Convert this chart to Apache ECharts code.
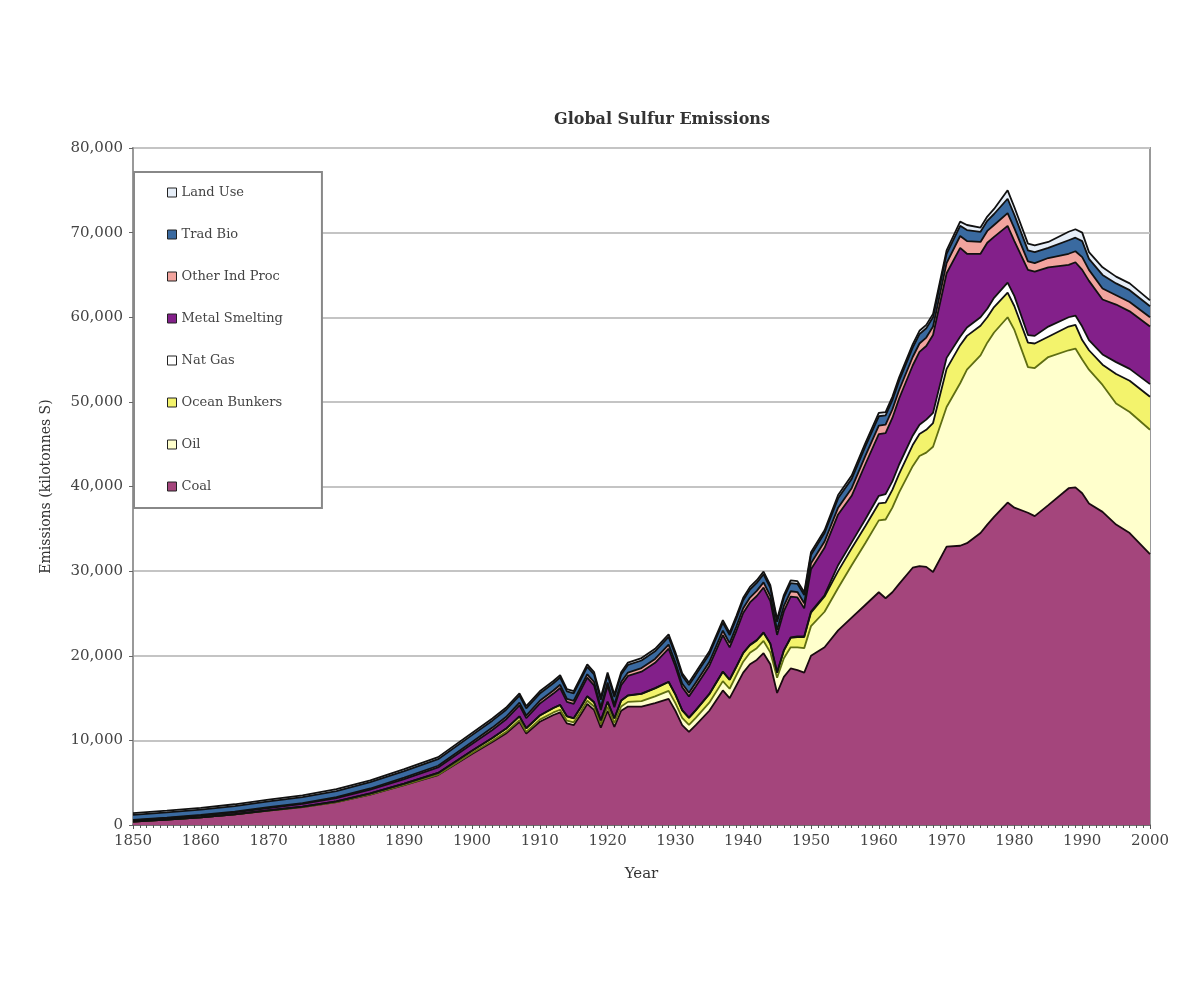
<!DOCTYPE html>
<html>
<head>
<meta charset="utf-8">
<title>Global Sulfur Emissions</title>
<script src="https://cdn.jsdelivr.net/npm/echarts@6/dist/echarts.min.js"></script>
<style>
  html, body { margin: 0; padding: 0; background: #fff; }
  #chart { width: 1200px; height: 981px; }
</style>
</head>
<body>
<div id="chart"></div>
<script>
// 年份（不等间距，跳动大的年份取得更密）
const years = [1850,1855,1860,1865,1870,1875,1880,1885,1890,1895,
  1900,1903,1905,1907,1908,1910,1912,1913,1914,1915,
  1916,1917,1918,1919,1920,1921,1922,1923,1925,1927,
  1929,1930,1931,1932,1933,1935,1937,1938,1939,1940,
  1941,1942,1943,1944,1945,1946,1947,1948,1949,1950,
  1952,1954,1956,1958,1960,1961,1962,1963,1965,1966,
  1967,1968,1970,1972,1973,1975,1976,1977,1979,1980,
  1982,1983,1985,1988,1989,1990,1991,1993,1995,1997,2000];

// 各来源排放量 (kilotonnes S)
const coal = [400,650,900,1250,1700,2100,2700,3600,4700,5900,
  8400,9800,10800,12200,10800,12200,13000,13300,12000,11800,
  13000,14300,13600,11500,13500,11600,13500,14000,14000,14400,
  14900,13500,11800,11000,11800,13500,15900,15000,16500,18000,
  19000,19500,20300,19000,15600,17500,18500,18300,18000,20000,
  21000,23000,24500,26000,27500,26800,27500,28500,30400,30600,
  30500,29900,32900,33000,33300,34500,35500,36400,38100,37500,
  36900,36500,37800,39800,39900,39200,38000,37000,35500,34500,32000];
const oil = [0,0,0,0,0,5,10,15,30,50,
  100,150,180,200,200,250,300,320,320,330,
  350,380,400,420,450,450,500,550,650,800,
  950,900,850,820,850,950,1100,1100,1200,1300,
  1350,1400,1450,1400,1800,2200,2500,2700,2900,3500,
  4200,5000,6200,7300,8500,9300,10000,10800,12000,13000,
  13500,14800,16500,19200,20500,21000,21500,21800,21900,21000,
  17200,17500,17500,16300,16400,15800,15800,15000,14300,14300,14700];
const oceanBunkers = [0,0,10,20,40,60,80,110,150,200,
  270,330,380,430,420,480,520,560,520,480,
  500,520,500,450,600,550,700,750,850,950,
  1050,1000,900,850,900,1000,1100,1050,1000,1000,
  900,900,950,1000,600,900,1100,1200,1300,1600,
  1800,2000,2000,2000,2000,2000,2100,2200,2500,2600,
  2700,2800,4500,4500,4000,3500,3000,3000,2900,2800,
  2900,2900,2400,2800,2800,2300,2300,2400,3500,3700,3900];
const natGas = [0,0,0,0,0,0,0,0,0,0,
  0,0,0,10,10,10,10,10,10,10,
  10,10,10,10,10,10,10,10,20,20,
  30,30,30,30,30,40,40,40,50,50,
  50,60,60,60,60,70,80,90,100,120,
  150,700,700,800,900,1000,1000,1100,1100,1100,
  1200,1200,1300,1000,1000,1000,1000,1100,1200,1200,
  900,900,1200,1100,1100,1600,1200,1200,1400,1400,1500];
const metalSmelting = [150,170,200,230,270,320,380,450,550,650,
  800,950,1100,1300,1200,1400,1700,2000,1700,1700,
  2000,2200,2000,1200,1900,1300,1800,2300,2600,3000,
  3900,3300,2700,2500,2800,3300,4300,3800,4200,4700,
  5000,5200,5300,5000,4400,4600,4800,4600,3300,5000,
  5600,6000,5500,6500,7300,7200,7500,7800,8300,8600,
  8700,9200,10000,10500,8700,7500,7800,7200,6700,6500,
  7700,7600,7000,6200,6300,6700,7000,6500,6800,6800,6800];
const otherIndProc = [50,60,70,80,90,100,120,140,170,200,
  250,280,300,320,310,340,360,380,360,360,
  380,400,400,350,380,330,380,400,420,450,
  480,460,430,420,430,470,520,500,530,560,
  580,600,610,600,600,620,640,640,600,700,
  750,800,900,1000,1000,1000,1000,1000,1000,1000,
  1000,1000,1200,1400,1500,1400,1400,1400,1500,1500,
  1000,1000,1100,1300,1300,1500,1300,1300,1100,1100,1100];
const tradBio = [600,620,640,660,680,700,720,740,760,780,
  800,820,830,840,840,850,860,860,870,870,
  870,880,880,880,890,890,890,900,900,910,
  920,920,920,920,930,930,940,940,940,950,
  950,950,960,960,960,970,970,970,980,990,
  1000,1100,1100,1100,1100,1100,1100,1100,1100,1100,
  1100,1100,1100,1200,1300,1200,1200,1300,1700,1600,
  1300,1300,1200,1600,1600,1900,1300,1600,1400,1400,1300];
const landUse = [200,200,210,210,220,220,230,230,240,240,
  250,250,260,260,260,270,270,270,270,270,
  270,280,280,280,280,280,280,280,290,290,
  290,290,290,290,300,300,300,300,300,300,
  310,310,310,310,310,310,310,320,320,330,
  330,400,400,400,400,400,400,400,400,400,
  400,400,400,500,600,500,500,600,1000,900,
  800,800,700,1000,1000,1000,800,900,800,800,700];

// 图例顺序（从上到下）
const legendNames = ['Land Use', 'Trad Bio', 'Other Ind Proc', 'Metal Smelting', 'Nat Gas', 'Ocean Bunkers', 'Oil', 'Coal'];
const yTicks = [0, 10000, 20000, 30000, 40000, 50000, 60000, 70000, 80000];

// 堆叠顺序（从下到上）
const layers = [
  { name: 'Coal', values: coal, fill: '#a4457c', line: '#1a0a10' },
  { name: 'Oil', values: oil, fill: '#ffffcc', line: '#5f6e12' },
  { name: 'Ocean Bunkers', values: oceanBunkers, fill: '#f3f36c', line: '#111' },
  { name: 'Nat Gas', values: natGas, fill: '#ffffff', line: '#111' },
  { name: 'Metal Smelting', values: metalSmelting, fill: '#83208a', line: '#111' },
  { name: 'Other Ind Proc', values: otherIndProc, fill: '#f2a49e', line: '#111' },
  { name: 'Trad Bio', values: tradBio, fill: '#3a6aa0', line: '#111' },
  { name: 'Land Use', values: landUse, fill: '#e6eef8', line: '#111' }
];

const serif = "'DejaVu Serif', 'Liberation Serif', serif";
const chart = echarts.init(document.getElementById('chart'));

const option = {
  backgroundColor: '#fff',
  animation: false,
  title: {
    text: 'Global Sulfur Emissions',
    left: 657,
    top: 107,
    textAlign: 'center',
    textStyle: { fontFamily: serif, fontSize: 16, fontWeight: 'bold', color: '#333' }
  },
  legend: {
    data: legendNames,
    orient: 'vertical',
    left: 134,
    top: 172,
    icon: 'rect',
    itemWidth: 9,
    itemHeight: 9,
    itemGap: 29,
    padding: [14, 39, 15, 33],
    borderColor: '#888',
    borderWidth: 2,
    backgroundColor: '#fff',
    itemStyle: { borderColor: '#222', borderWidth: 1 },
    textStyle: { fontFamily: serif, fontSize: 13, color: '#444' }
  },
  grid: {
    left: 133,
    right: 50,
    top: 148,
    bottom: 156,
    show: true,
    borderColor: '#999',
    borderWidth: 2
  },
  xAxis: {
    type: 'value',
    min: 1850,
    max: 2000,
    interval: 10,
    name: 'Year',
    nameLocation: 'middle',
    nameGap: 42,
    nameTextStyle: { fontFamily: serif, fontSize: 15, color: '#333' },
    axisLine: { lineStyle: { color: '#555', width: 1.5 } },
    axisTick: { length: 4, lineStyle: { color: '#555' } },
    minorTick: { show: true, splitNumber: 10, length: 3, lineStyle: { color: '#555' } },
    splitLine: { show: false },
    axisLabel: {
      formatter: v => String(v),
      fontFamily: serif,
      fontSize: 15,
      color: '#444',
      margin: 9
    }
  },
  yAxis: {
    type: 'value',
    min: yTicks[0],
    max: yTicks[yTicks.length - 1],
    interval: yTicks[1] - yTicks[0],
    name: 'Emissions (kilotonnes S)',
    nameLocation: 'middle',
    nameGap: 80,
    nameTextStyle: { fontFamily: serif, fontSize: 14, color: '#333' },
    axisLine: { show: true, lineStyle: { color: '#999', width: 2 } },
    axisTick: { show: true, length: 4, lineStyle: { color: '#666' } },
    splitLine: { lineStyle: { color: '#c4c4c4', width: 2 } },
    axisLabel: { fontFamily: serif, fontSize: 15, color: '#444', margin: 10 }
  },
  // 数据写成 [数值, 年份]，让数值维排在第一位，这样 value 轴上的堆叠才会堆在 y 上
  series: layers.map(l => ({
    name: l.name,
    type: 'line',
    stack: 'total',
    symbol: 'none',
    smooth: false,
    encode: { x: 1, y: 0 },
    data: years.map((y, i) => [l.values[i], y]),
    itemStyle: { color: l.fill },
    lineStyle: { color: l.line, width: 1.8 },
    areaStyle: { color: l.fill, opacity: 1 },
    emphasis: { disabled: true }
  }))
};

chart.setOption(option);
</script>
</body>
</html>
